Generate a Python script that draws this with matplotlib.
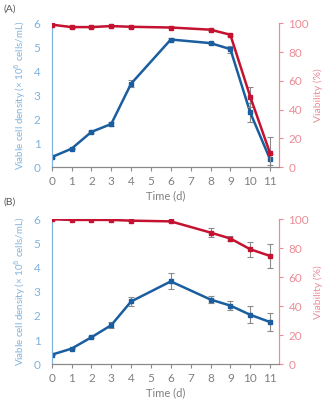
import numpy as np
import matplotlib.pyplot as plt

# culture time points (days)
days = [0, 1, 2, 3, 4, 6, 8, 9, 10, 11]

# panel A
vcd_a = [0.42, 0.77, 1.47, 1.80, 3.48, 5.32, 5.17, 4.92, 2.28, 0.33]
vcd_a_err = [0.03, 0.03, 0.04, 0.10, 0.15, 0.07, 0.05, 0.15, 0.38, 0.22]
via_a = [99.0, 97.3, 97.3, 98.0, 97.5, 97.0, 95.5, 92.0, 49.0, 9.7]
via_a_err = [0.5, 0.5, 0.5, 0.5, 0.5, 0.5, 0.6, 0.8, 7.0, 11.6]

# panel B
vcd_b = [0.40, 0.65, 1.12, 1.62, 2.60, 3.43, 2.68, 2.43, 2.05, 1.75]
vcd_b_err = [0.03, 0.03, 0.04, 0.13, 0.17, 0.33, 0.13, 0.17, 0.35, 0.38]
via_b = [100.0, 99.5, 99.5, 99.5, 99.0, 98.5, 90.8, 86.7, 79.3, 74.7]
via_b_err = [0.3, 0.3, 0.3, 0.3, 0.3, 0.5, 3.0, 2.0, 5.0, 8.5]

xticks = list(range(12))

BLUE = "#1a5e9f"
RED = "#c41230"
LBLUE = "#7fb2dd"
LRED = "#ec8c96"
GRAY = "#8a8a8a"

plt.rcParams['font.family'] = ['Lato', 'DejaVu Sans']
plt.rcParams['font.size'] = 8

fig = plt.figure(figsize=(3.23, 4.0), dpi=100)


def panel(rect, vcd, vcd_err, via, via_err, tag, tag_y):
    ax = fig.add_axes(rect)
    ax2 = ax.twinx()
    ax.errorbar(days, vcd, yerr=vcd_err, color=BLUE, lw=1.8, marker="s", ms=3.2,
                ecolor=GRAY, elinewidth=0.8, capsize=2, capthick=0.8, zorder=3)
    ax2.errorbar(days, via, yerr=via_err, color=RED, lw=1.8, marker="s", ms=3.2,
                 ecolor=GRAY, elinewidth=0.8, capsize=2, capthick=0.8, zorder=3)

    ax.set_xlim(0, 11.47)
    ax.set_ylim(0, 6)
    ax2.set_ylim(0, 100)
    ax.set_xticks(xticks)
    ax.set_yticks(range(7))
    ax2.set_yticks(range(0, 101, 20))

    for a in (ax, ax2):
        a.spines["top"].set_visible(False)
        a.spines["left"].set_color(LBLUE)
        a.spines["right"].set_color(LRED)
        a.spines["bottom"].set_color(GRAY)
        a.spines["left"].set_linewidth(0.8)
        a.spines["right"].set_linewidth(0.8)
        a.spines["bottom"].set_linewidth(0.8)

    ax.tick_params(axis="x", colors=GRAY, labelcolor="#808080", length=3, width=0.8, labelsize=8.5)
    ax.tick_params(axis="y", colors=LBLUE, labelcolor=LBLUE, length=0, labelsize=8.5, pad=8)
    ax2.tick_params(axis="y", colors=LRED, labelcolor=LRED, length=3, width=0.8, labelsize=8.5)

    ax.set_xlabel("Time (d)", color="#808080", fontsize=8, labelpad=2)
    ax.set_ylabel("Viable cell density (× 10$^6$ cells/mL)", color=LBLUE, fontsize=7, labelpad=4)
    ax2.set_ylabel("Viability (%)", color=LRED, fontsize=7.5, labelpad=3)

    fig.text(0.012, tag_y, tag, fontsize=7.5, color="#555555", va="center")
    return ax


panel([0.160, 0.582, 0.705, 0.360], vcd_a, vcd_a_err, via_a, via_a_err, "(A)", 0.978)
panel([0.160, 0.089, 0.705, 0.363], vcd_b, vcd_b_err, via_b, via_b_err, "(B)", 0.495)

fig.savefig("out.png", dpi=100)
